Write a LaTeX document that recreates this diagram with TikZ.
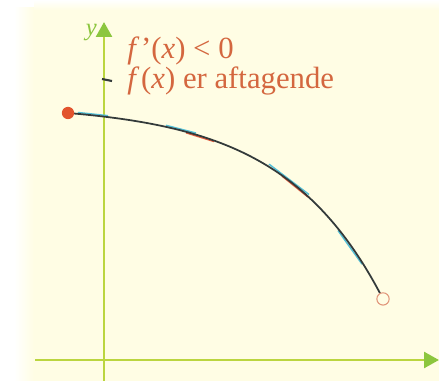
\documentclass[tikz,border=0pt]{standalone}
\usepackage{fontspec}
\setmainfont{Liberation Serif}
\usepackage{xcolor}
\usetikzlibrary{positioning,calc,arrows.meta}
\definecolor{paper}{HTML}{FFFDE4}
\definecolor{axisgreen}{HTML}{BBD53F}
\definecolor{tipgreen}{HTML}{8CC63E}
\definecolor{labelred}{HTML}{D4673F}
\definecolor{dotred}{HTML}{E2542E}
\definecolor{tangcyan}{HTML}{52BFD6}
\definecolor{tangred}{HTML}{E0583A}
\definecolor{curvedark}{HTML}{333A3A}

\begin{document}
\begin{tikzpicture}[x=0.02cm, y=-0.02cm, declare function={fy(\t)=113+8.34*(exp(0.01*(\t-68))-1); fd(\t)=0.0834*exp(0.01*(\t-68));}, axis/.style={draw=axisgreen, line width=1.6pt, -{Triangle[length=8.5pt, width=9pt, fill=tipgreen, color=tipgreen]}}, tangent/.style={line width=0.8pt}, caption/.style={anchor=base west, inner sep=0pt, text=labelred, font=\fontsize{17.5}{20}\selectfont}, enddot/.style={circle, inner sep=0pt, minimum size=7pt, line width=0.6pt}]
\useasboundingbox (0,0) rectangle (439,381);
\shade[left color=white, right color=paper] (14,8) rectangle (34,381);
\fill[paper] (34,8) rectangle (439,381);
\shade[top color=white, bottom color=paper] (34,0) rectangle (439,10);
% axes
\coordinate (xstart) at (35,360);
\coordinate (xend) at (439,360);
\coordinate (ystart) at (104,381);
\coordinate (yend) at (104,22);
\draw[axis] (xstart) -- (xend);
\draw[axis] (ystart) -- (yend);
\node[text=tipgreen, font=\itshape\fontsize{14}{16}\selectfont, anchor=east, inner sep=1pt] (ylab) at (99,33) {y};
\coordinate (tickl) at (102,79);
\coordinate (tickr) at (112,81);
\draw[curvedark, line width=1.2pt] (tickl) -- (tickr);
% labels
\node[caption] (deriv) at (127,59) {\textit{f}\kern1pt’(\textit{x}) < 0};
\node[caption] (decr) at (127,89) {\textit{f}\kern1pt(\textit{x}) er aftagende};
% tangents (x0, half width, shift, colour)
\foreach \xo/\h/\s/\c in {93/15/-1.3/tangcyan, 181/15/-1.3/tangcyan, 200/14/1.3/tangred, 289/20/-1.3/tangcyan, 295/13/1.3/tangred, 350/12/3/tangcyan}
  \draw[tangent, \c] (\xo-\h, {fy(\xo)-fd(\xo)*\h+\s}) -- (\xo+\h, {fy(\xo)+fd(\xo)*\h+\s});
% graph
\draw[curvedark, line width=1pt] plot[domain=68:380, samples=60, smooth] (\x,{fy(\x)});
% end points
\node[enddot, fill=dotred] (pstart) at (68,113) {};
\node[enddot, draw=labelred!70, fill=paper] (pend) at (383,{fy(383)}) {};
\end{tikzpicture}
\end{document}
